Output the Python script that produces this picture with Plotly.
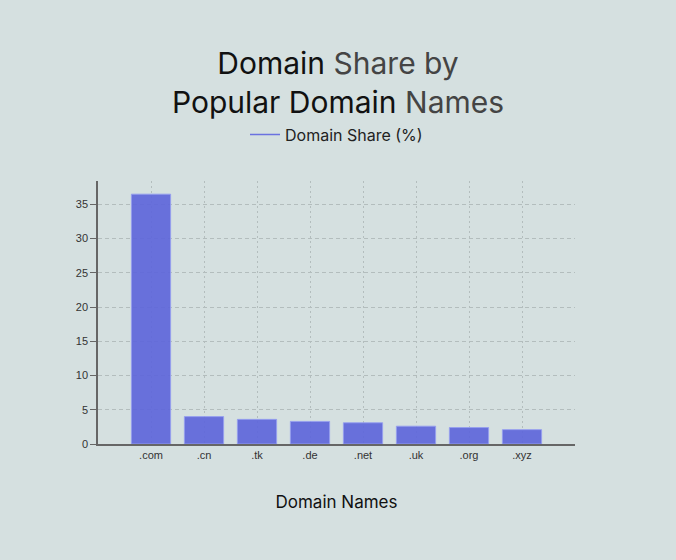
import plotly.graph_objects as go

# Domain share data
domains = ['.com', '.cn', '.tk', '.de', '.net', '.uk', '.org', '.xyz']
share = [36.5, 4.0, 3.6, 3.3, 3.1, 2.6, 2.4, 2.1]

bar_color = 'rgba(92,100,218,0.9)'
bg = '#d5e0e0'

fig = go.Figure()
fig.add_trace(go.Bar(
    x=domains,
    y=share,
    width=0.74,
    marker=dict(color=bar_color, line=dict(color='rgba(150,158,240,0.9)', width=1)),
    showlegend=False,
    name='Domain Share (%)'
))
# legend entry drawn as a line, like the original
fig.add_trace(go.Scatter(
    x=[None], y=[None], mode='lines',
    line=dict(color='#6b72e0', width=1.5),
    name='Domain Share (%)'
))

fig.update_layout(
    width=676, height=560,
    paper_bgcolor=bg, plot_bgcolor=bg,
    font=dict(family='Inter', color='#222'),
    title=dict(
        text='<span style="color:#111">Domain</span> <span style="color:#444">Share by</span><br>'
             '<span style="color:#111">Popular Domain</span> <span style="color:#444">Names</span>',
        x=0.5, xanchor='center', y=0.867, yanchor='top',
        font=dict(size=30, family='Inter')
    ),
    legend=dict(
        orientation='h', x=0.5, xanchor='center', y=1.176, yanchor='middle',
        font=dict(size=16, color='#222'), bgcolor='rgba(0,0,0,0)'
    ),
    margin=dict(l=98, r=101, t=181, b=116),
    bargap=0.26,
    xaxis=dict(
        range=[-1, 8],
        showline=True, linecolor='#666', linewidth=1.5,
        showgrid=True, gridcolor='#b3bdbd', griddash='2px,3px', gridwidth=1,
        ticks='', tickfont=dict(size=11, color='#333', family='Liberation Sans'),
        title=dict(text='Domain Names', font=dict(size=17, color='#111'), standoff=36),
    ),
    yaxis=dict(
        showline=True, linecolor='#666', linewidth=1.5,
        showgrid=True, gridcolor='#b3bdbd', griddash='4px,3px', gridwidth=1,
        ticks='outside', ticklen=6, tickcolor='#666',
        tickfont=dict(size=11, color='#333', family='Liberation Sans'),
        dtick=5, zeroline=False, rangemode='tozero',
    ),
)

fig.write_html('out.html', config={'displayModeBar': False},
               post_script="document.body.style.margin='0';")
